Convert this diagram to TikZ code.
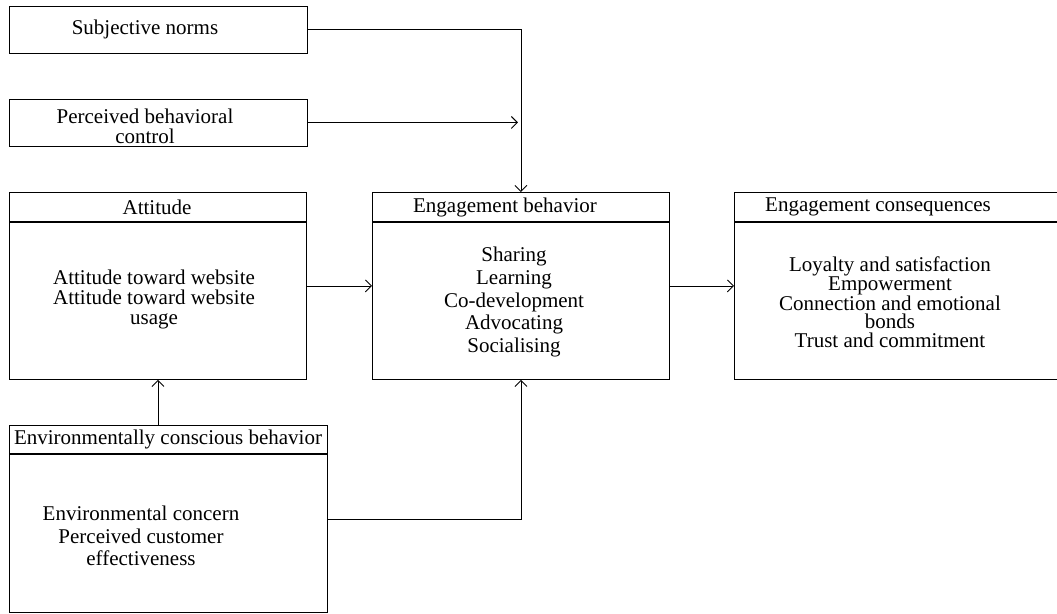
\documentclass[tikz,border=0pt]{standalone}
\usepackage{fontspec}
\setmainfont{Liberation Serif}
\usetikzlibrary{arrows.meta}
\begin{document}
\begin{tikzpicture}[x=1pt,y=-1pt,
  box/.style={draw, line width=0.9pt, rectangle, inner sep=0pt, anchor=north west},
  hline/.style={line width=1.3pt},
  txt/.style={font=\fontsize{21}{20}\selectfont, inner sep=0pt, align=center},
  conn/.style={line width=0.9pt, -{Straight Barb[length=6pt,width=12pt,line width=0.9pt]}}]
\useasboundingbox (0,0) rectangle (1057,613);
% boxes
\node[box, minimum width=298pt, minimum height=47pt] (sn) at (9,5.5) {};
\node[box, minimum width=298pt, minimum height=47pt] (pbc) at (9,98.5) {};
\node[box, minimum width=297pt, minimum height=187pt] (att) at (9,192) {};
\node[box, minimum width=297pt, minimum height=187pt] (eb) at (372,192) {};
\node[box, minimum width=330pt, minimum height=187pt] (ec) at (734,192) {};
\node[box, minimum width=318pt, minimum height=187pt] (env) at (9,425) {};
% header lines
\draw[hline] (att.west |- 0,222) -- (att.east |- 0,222);
\draw[hline] (eb.west |- 0,222) -- (eb.east |- 0,222);
\draw[hline] (ec.west |- 0,222) -- (ec.east |- 0,222);
\draw[hline] (env.west |- 0,454) -- (env.east |- 0,454);
% texts
\node[txt] (snt) at (145,29) {Subjective norms};
\node[txt] (pbct) at (145,126) {Perceived behavioral\\ control};
\node[txt] (atth) at (157,207) {Attitude};
\node[txt] (attb) at (154,299) {Attitude toward website\\Attitude toward website\\usage};
\node[txt] (ebh) at (505,207) {Engagement behavior};
\node[txt, font=\fontsize{21}{22.8}\selectfont] (ebb) at (514,302) {Sharing\\Learning\\Co-development\\Advocating\\Socialising};
\node[txt] (ech) at (878,207) {Engagement consequences};
\node[txt, font=\fontsize{21}{18.5}\selectfont] (ecb) at (890,302) {Loyalty and satisfaction\\Empowerment\\Connection and emotional\\bonds\\Trust and commitment};
\node[txt] (envh) at (168,439) {Environmentally conscious behavior};
\node[txt, font=\fontsize{21}{22.5}\selectfont] (envb) at (141,536) {Environmental concern\\Perceived customer\\effectiveness};
% connectors
\draw[conn] (sn.east) -| (eb.north);
\draw[conn, shorten >=3pt] (pbc.east) -- (pbc.east -| eb.north);
\draw[conn] (att) -- (eb);
\draw[conn] (eb.east) -- (eb.east -| ec.west);
\draw[conn] (att.south |- env.north) -- (att.south);
\draw[conn] (env.east) -| (eb.south);
\end{tikzpicture}
\end{document}
